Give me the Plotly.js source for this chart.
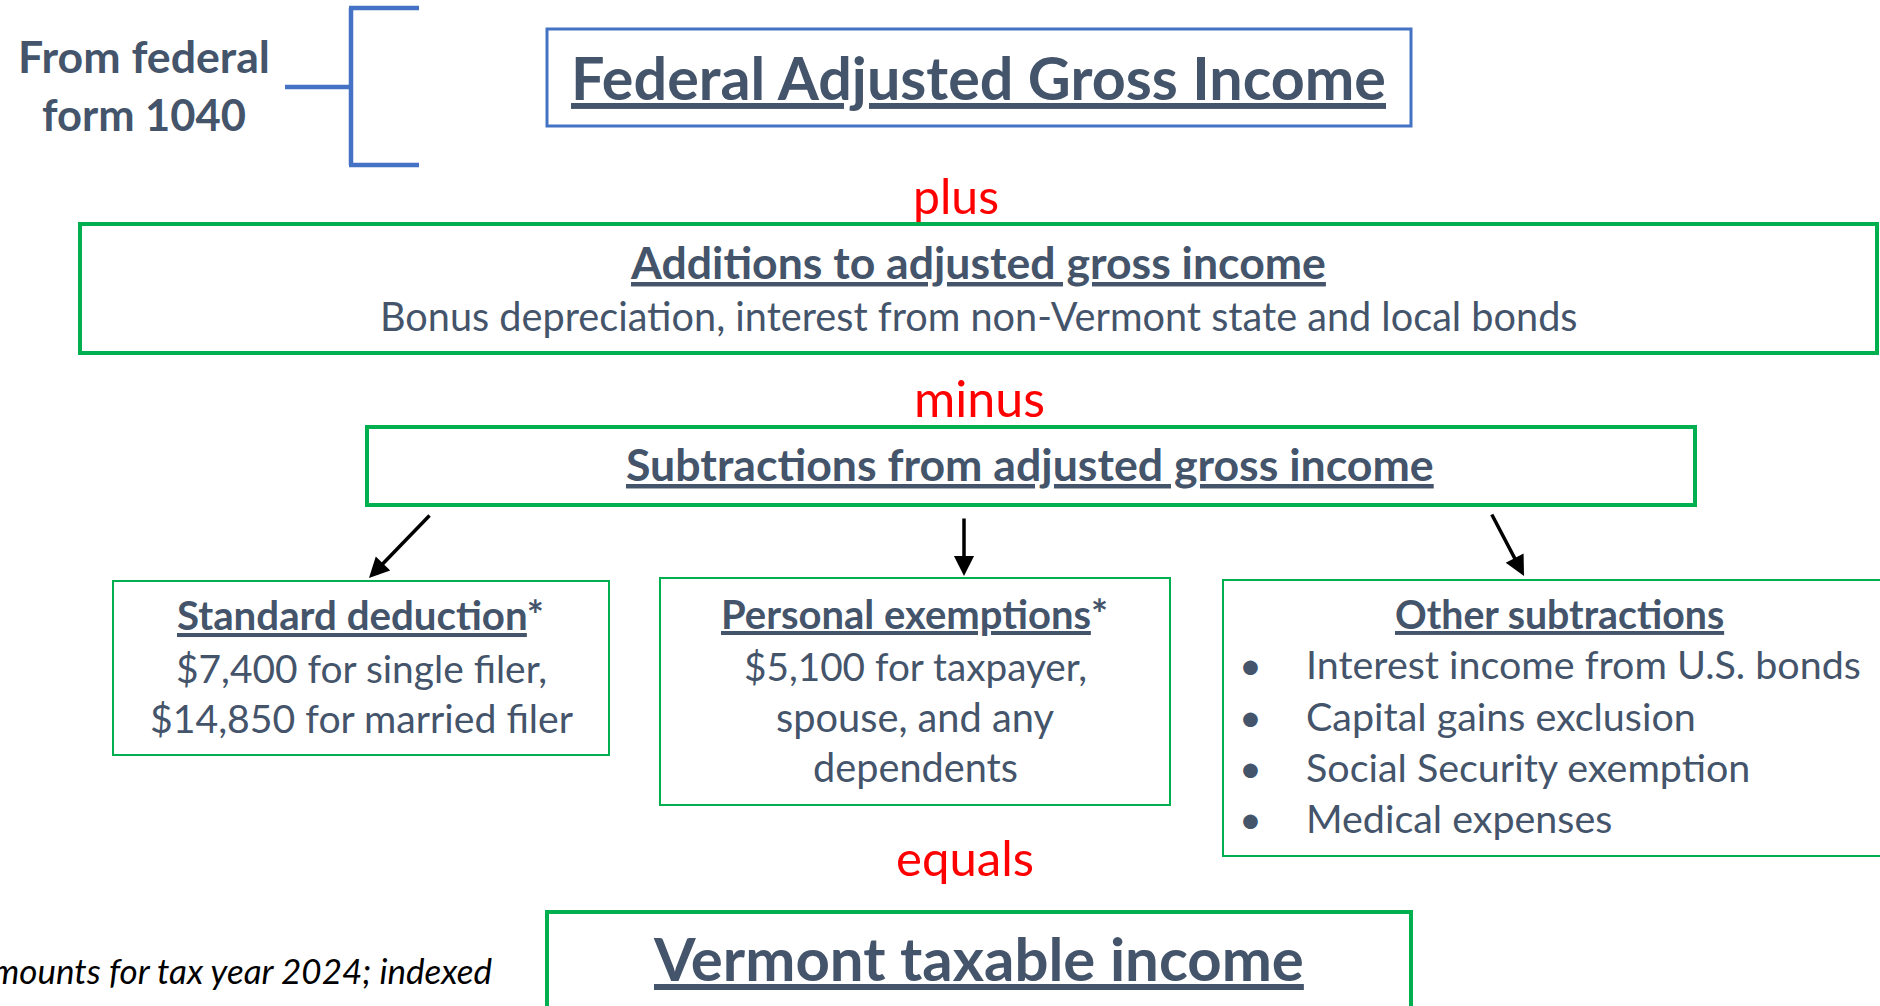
<!DOCTYPE html>
<html>
<head>
<meta charset="utf-8">
<script src="https://cdn.plot.ly/plotly-3.0.1.min.js"></script>
<style>
  html, body { margin: 0; padding: 0; background: #ffffff; overflow: hidden; }
  #chart { width: 1880px; height: 1006px; }
</style>
</head>
<body>
<div id="chart"></div>
<script>
// ---------------- DATA ----------------
const sourceLabel = ["From federal", "form 1040"];
const boxTitles = [
  "Federal Adjusted Gross Income",
  "Additions to adjusted gross income",
  "Subtractions from adjusted gross income",
  "Standard deduction",
  "Personal exemptions",
  "Other subtractions",
  "Vermont taxable income"
];
const operators = ["plus", "minus", "equals"];
const additionsDetail = ["Bonus depreciation, interest from non-Vermont state and local bonds"];
const deductionAmounts = [7400, 14850];
const deductionFilers = ["single filer,", "married filer"];
const exemptionAmount = [5100];
const exemptionLines = ["for taxpayer,", "spouse, and any", "dependents"];
const otherSubtractions = [
  "Interest income from U.S. bonds",
  "Capital gains exclusion",
  "Social Security exemption",
  "Medical expenses"
];
const footnote = ["*Amounts for tax year 2024; indexed", "for inflation"];

// ---------------- STYLE ----------------
const FONT = 'Lato, "Open Sans", sans-serif';
const DARK = '#44546A', GREEN = '#00B050', BLUE = '#4472C4', RED = '#FF0000';

const money = v => '$' + v.toLocaleString('en-US');

const ctx = document.createElement('canvas').getContext('2d');
function fitSize(txt, target, weight, style) {
  ctx.font = (style || 'normal') + ' ' + (weight || 'normal') + ' 100px Lato';
  const w = ctx.measureText(txt).width;
  return w > 0 ? 100 * target / w : 30;
}

const annotations = [];
function addText(o) {
  const size = o.size || fitSize(o.measure || o.plain, o.width, o.bold ? 'bold' : 'normal', o.italic ? 'italic' : 'normal');
  annotations.push({
    x: o.x, y: o.baseline - 0.36 * size, xref: 'x', yref: 'y',
    text: o.html, showarrow: false,
    xanchor: o.anchor || 'center', yanchor: 'middle',
    font: { family: FONT, size: size, color: o.color || DARK }
  });
  return size;
}

// source label
addText({ plain: sourceLabel[0], html: '<b>' + sourceLabel[0] + '</b>', bold: true, x: 144, width: 252, baseline: 72 });
addText({ plain: sourceLabel[1], html: '<b>' + sourceLabel[1] + '</b>', bold: true, x: 144, width: 204, baseline: 130 });

// main titles
addText({ plain: boxTitles[0], html: '<b><u>' + boxTitles[0] + '</u></b>', bold: true, x: 978, width: 817, baseline: 99 });
addText({ plain: operators[0], html: operators[0], color: RED, x: 956, width: 86, baseline: 213 });
addText({ plain: boxTitles[1], html: '<b><u>' + boxTitles[1] + '</u></b>', bold: true, x: 978, width: 695, baseline: 278 });
addText({ plain: additionsDetail[0], html: additionsDetail[0], x: 979, width: 1198, baseline: 330 });
addText({ plain: operators[1], html: operators[1], color: RED, x: 979, width: 131, baseline: 416 });
addText({ plain: boxTitles[2], html: '<b><u>' + boxTitles[2] + '</u></b>', bold: true, x: 1030, width: 808, baseline: 480 });

// standard deduction box
addText({ plain: boxTitles[3] + '*', html: '<b><u>' + boxTitles[3] + '</u>*</b>', bold: true, x: 360, width: 367, baseline: 629 });
addText({ plain: money(deductionAmounts[0]) + ' for ' + deductionFilers[0], html: money(deductionAmounts[0]) + ' for ' + deductionFilers[0], x: 361, width: 372, baseline: 682 });
addText({ plain: money(deductionAmounts[1]) + ' for ' + deductionFilers[1], html: money(deductionAmounts[1]) + ' for ' + deductionFilers[1], x: 361, width: 424, baseline: 732 });

// personal exemptions box
addText({ plain: boxTitles[4] + '*', html: '<b><u>' + boxTitles[4] + '</u>*</b>', bold: true, x: 914, width: 387, baseline: 628 });
const exLines = [money(exemptionAmount[0]) + ' ' + exemptionLines[0], exemptionLines[1], exemptionLines[2]];
const exWidths = [344, 278, 205];
const exBase = [680, 731, 781];
exLines.forEach((t, i) => addText({ plain: t, html: t, x: 915, width: exWidths[i], baseline: exBase[i] }));

// other subtractions box
addText({ plain: boxTitles[5], html: '<b><u>' + boxTitles[5] + '</u></b>', bold: true, x: 1559, width: 330, baseline: 628 });
const itemSize = fitSize(otherSubtractions[0], 555, 'normal', 'normal');
const itemBase = [678, 730, 781, 832];
otherSubtractions.forEach((t, i) => {
  addText({ plain: t, html: t, x: 1304, anchor: 'left', size: itemSize, baseline: itemBase[i] });
  addText({ plain: '•', html: '•', x: 1250, size: itemSize, baseline: itemBase[i] });
});

// equals & result
addText({ plain: operators[2], html: operators[2], color: RED, x: 965, width: 138, baseline: 875 });
addText({ plain: boxTitles[6], html: '<b><u>' + boxTitles[6] + '</u></b>', bold: true, x: 978, width: 650, baseline: 980 });

// footnote (partly outside the visible area, as in the original)
const fnSize = fitSize(footnote[0].slice(2), 503, 'normal', 'italic');
addText({ plain: footnote[0], html: '<i>' + footnote[0] + '</i>', x: 495, anchor: 'right', size: fnSize, color: '#000000', baseline: 983 });
addText({ plain: footnote[1], html: '<i>' + footnote[1] + '</i>', x: 30, anchor: 'left', size: fnSize, color: '#000000', baseline: 1024 });

// arrows
const arrows = [
  { from: [431, 514], to: [369, 578] },
  { from: [964, 517], to: [964, 576] },
  { from: [1491, 513], to: [1524, 576] }
];
arrows.forEach(a => annotations.push({
  x: a.to[0], y: a.to[1], ax: a.from[0], ay: a.from[1],
  xref: 'x', yref: 'y', axref: 'x', ayref: 'y',
  text: '', showarrow: true, arrowhead: 2, arrowsize: 1.15, arrowwidth: 3.5,
  arrowcolor: '#000000', standoff: 0
}));

// ---------------- SHAPES ----------------
function rect(x0, y0, x1, y1, color, w) {
  return { type: 'rect', xref: 'x', yref: 'y', x0, y0, x1, y1, line: { color, width: w }, fillcolor: 'rgba(0,0,0,0)' };
}
function line(x0, y0, x1, y1, color, w) {
  return { type: 'line', xref: 'x', yref: 'y', x0, y0, x1, y1, line: { color, width: w } };
}
const shapes = [
  // bracket
  line(351, 8, 351, 165, BLUE, 4.5),
  line(349, 8, 419, 8, BLUE, 4.5),
  line(349, 165, 419, 165, BLUE, 4.5),
  line(285, 87, 351, 87, BLUE, 4.5),
  // boxes
  rect(547, 29, 1411, 126, BLUE, 3),
  rect(80, 224, 1877, 353, GREEN, 4),
  rect(367, 427, 1695, 505, GREEN, 4),
  rect(113, 581, 609, 755, GREEN, 2),
  rect(660, 578, 1170, 805, GREEN, 2),
  rect(1223, 580, 1895, 856, GREEN, 2),
  rect(547, 912, 1411, 1040, GREEN, 4)
];

const layout = {
  width: 1880, height: 1006,
  margin: { l: 0, r: 0, t: 0, b: 0, pad: 0 },
  paper_bgcolor: '#ffffff', plot_bgcolor: '#ffffff',
  showlegend: false,
  xaxis: { range: [0, 1880], visible: false, fixedrange: true },
  yaxis: { range: [1006, 0], visible: false, fixedrange: true },
  shapes: shapes,
  annotations: annotations
};

Plotly.newPlot('chart', [{ x: [], y: [], type: 'scatter', mode: 'markers', hoverinfo: 'skip' }], layout, { displayModeBar: false, staticPlot: true });
</script>
</body>
</html>
